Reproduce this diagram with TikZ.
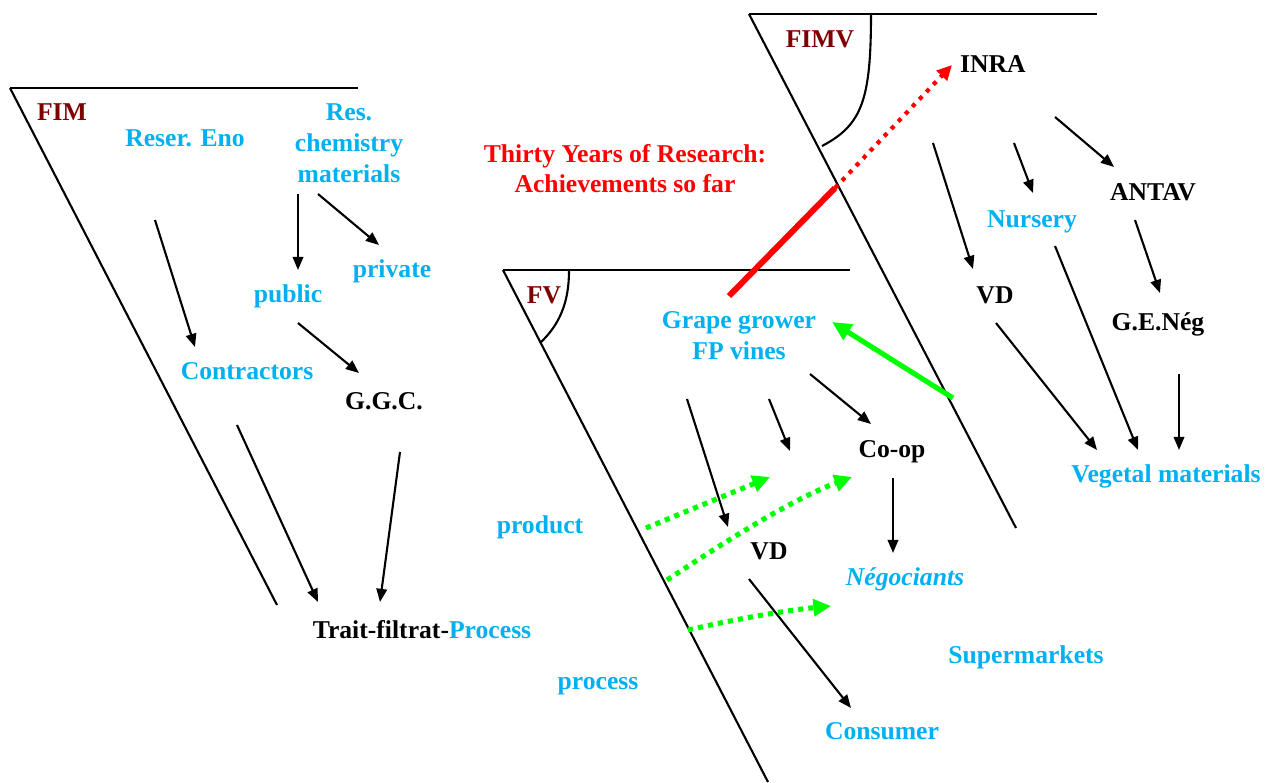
\documentclass[tikz,border=0pt]{standalone}
\usepackage{fontspec}
\setmainfont{Liberation Serif}
\usepackage{tikz}
\usetikzlibrary{arrows.meta}

\definecolor{lblue}{HTML}{00B0F0}
\definecolor{dred}{HTML}{7F0000}
\definecolor{lgreen}{HTML}{00FF00}

\begin{document}
\begin{tikzpicture}[x=0.02cm,y=-0.02cm]
	\tikzset{txt/.style={font=\fontsize{14.6}{17.6}\selectfont\bfseries,inner sep=0pt,align=center,anchor=base},
		actor/.style={txt,text=black},
		thing/.style={txt,text=lblue},
		field/.style={txt,text=dred},
		frame/.style={line width=1.2pt},
		lnk/.style={line width=1.2pt,-{Triangle[length=7.5pt,width=6pt]}},
		feed/.style={lgreen,line width=2.9pt,dash pattern=on 2.9pt off 2.9pt,-{Triangle[length=10pt,width=9.5pt]}}}
	\useasboundingbox (0,0) rectangle (1269,782);

	%% FIM
	\draw[frame] (10,88) -- (358,88);
	\draw[frame] (10,88) -- (277,605);
	\node[field] (fim) at (62,120) {FIM};
	\node[thing] (eno) at (185,146) {Reser. Eno};
	\node[thing] (chem) at (349,182) {Res.\\chemistry\\materials};
	\node[thing] (pub) at (288,302) {public};
	\node[thing] (priv) at (392,277) {private};
	\node[thing] (contr) at (247,379) {Contractors};
	\node[actor] (ggc) at (384,409) {G.G.C.};
	\node[actor] (trait) at (422,638) {Trait-filtrat-\textcolor{lblue}{Process}};
	\coordinate (e1) at (155,220); \coordinate (e2) at (195,347);
	\coordinate (c1) at (298,194); \coordinate (c2) at (298,270);
	\coordinate (c3) at (318,194); \coordinate (c4) at (379,245);
	\coordinate (p1) at (298,323); \coordinate (p2) at (359,373);
	\coordinate (t1) at (237,425); \coordinate (t2) at (318,602);
	\coordinate (t3) at (400,452); \coordinate (t4) at (380,602);
	\path[lnk]
		(e1) edge (e2)
		(c1) edge (c2)
		(c3) edge (c4)
		(p1) edge (p2)
		(t1) edge (t2)
		(t3) edge (t4);

	%% title
	\node[txt,text=red,font=\fontsize{14.6}{17}\selectfont\bfseries] (title) at (625,192) {Thirty Years of Research:\\Achievements so far};

	%% FIMV
	\draw[frame] (749,14) -- (1097,14);
	\draw[frame] (749,14) -- (1016,528);
	\draw[frame] (871,14) .. controls (871,100) and (862,125) .. (822,146);
	\node[field] (fimv) at (820,47) {FIMV};
	\node[actor] (inra) at (993,72) {INRA};
	\node[actor] (antav) at (1153,200) {ANTAV};
	\node[thing] (nurs) at (1032,227) {Nursery};
	\node[actor] (vd1) at (995,303) {VD};
	\node[actor] (gen) at (1158,330) {G.E.Nég};
	\node[thing] (veg) at (1166,482) {Vegetal materials};
	\coordinate (i1) at (1055,117); \coordinate (i2) at (1114,167);
	\coordinate (i3) at (1014,143); \coordinate (i4) at (1033,193);
	\coordinate (i5) at (933,143); \coordinate (i6) at (973,269);
	\coordinate (a1) at (1135,220); \coordinate (a2) at (1160,293);
	\coordinate (v1) at (996,323); \coordinate (v2) at (1097,450);
	\coordinate (n1) at (1055,246); \coordinate (n2) at (1138,450);
	\coordinate (g1) at (1179,374); \coordinate (g2) at (1179,450);
	\path[lnk]
		(i1) edge (i2)
		(i3) edge (i4)
		(i5) edge (i6)
		(a1) edge (a2)
		(v1) edge (v2)
		(n1) edge (n2)
		(g1) edge (g2);

	%% FV
	\draw[frame] (503,270) -- (850,270);
	\draw[frame] (503,270) -- (768,782);
	\draw[frame] (569,271) .. controls (569,303) and (559,325) .. (541,342);
	\node[field] (fv) at (544,303) {FV};
	\node[thing] (grow) at (739,359) {Grape grower\\FP vines};
	\node[actor] (coop) at (892,457) {Co-op};
	\node[thing] (prod) at (540,533) {product};
	\node[actor] (vd2) at (769,559) {VD};
	\node[thing] (nego) at (905,585) {\textit{Négociants}};
	\node[thing] (super) at (1026,663) {Supermarkets};
	\node[thing] (proc) at (598,689) {process};
	\node[thing] (cons) at (882,739) {Consumer};
	\coordinate (f1) at (810,374); \coordinate (f2) at (871,424);
	\coordinate (f3) at (769,399); \coordinate (f4) at (790,451);
	\coordinate (f5) at (687,399); \coordinate (f6) at (728,527);
	\coordinate (o1) at (893,478); \coordinate (o2) at (893,553);
	\coordinate (d1) at (749,579); \coordinate (d2) at (851,708);
	\path[lnk]
		(f1) edge (f2)
		(f3) edge (f4)
		(f5) edge (f6)
		(o1) edge (o2)
		(d1) edge (d2);

	%% research and feedback
	\coordinate (r1) at (729,296); \coordinate (r2) at (835,188); \coordinate (r3) at (952,65);
	\draw[red,line width=3.4pt] (r1) -- (r2);
	\draw[red,line width=2.4pt,dash pattern=on 2.4pt off 3.4pt,-{Triangle[length=8.5pt,width=8pt]}] (r2) -- (r3);
	\coordinate (b1) at (953,398); \coordinate (b2) at (832,322);
	\draw[lgreen,line width=2.9pt,-{Triangle[length=11pt,width=10pt]}] (b1) -- (b2);
	\coordinate (q1) at (646,528); \coordinate (q2) at (770,477);
	\coordinate (q3) at (667,580); \coordinate (q4) at (852,477);
	\coordinate (q5) at (688,630); \coordinate (q6) at (831,606);
	\draw[feed] (q1) -- (q2);
	\draw[feed] (q3) .. controls (720,545) and (790,500) .. (q4);
	\draw[feed] (q5) .. controls (740,618) and (790,610) .. (q6);
\end{tikzpicture}
\end{document}
